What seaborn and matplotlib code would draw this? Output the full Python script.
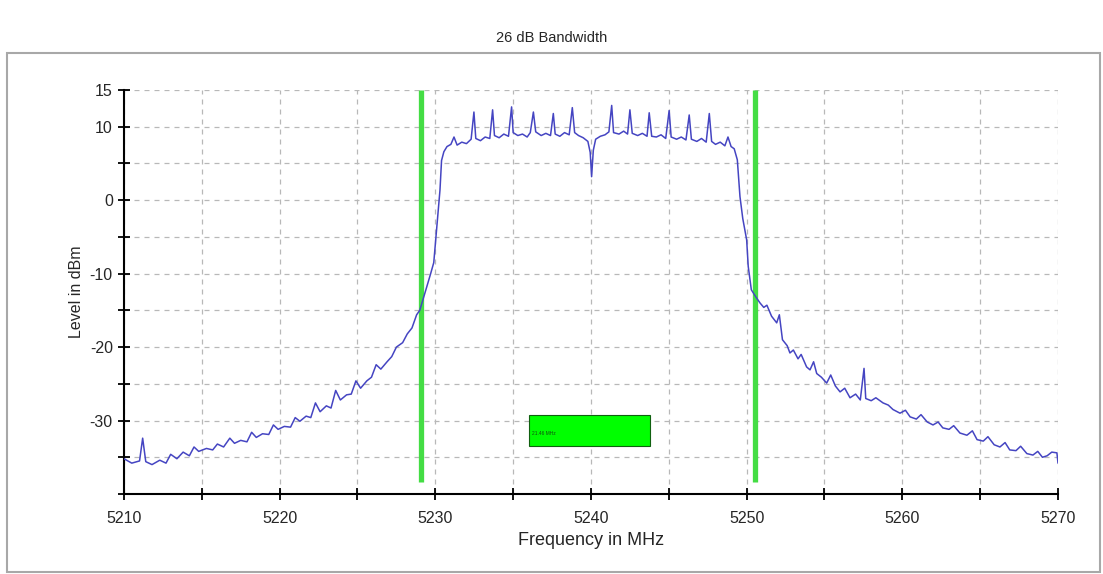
import numpy as np
import pandas as pd
import seaborn as sns
from matplotlib import pyplot as plt
from matplotlib.patches import Rectangle
from matplotlib.ticker import MultipleLocator

# spectrum trace (MHz, dBm)
freq = [
    5210.0, 5210.5, 5211.0, 5211.2, 5211.4, 5211.8, 5212.3, 5212.7, 5213.0, 5213.4,
    5213.8, 5214.2, 5214.5, 5214.8, 5215.3, 5215.7, 5216.0, 5216.4, 5216.8, 5217.1,
    5217.5, 5217.9, 5218.2, 5218.5, 5218.9, 5219.3, 5219.6, 5219.9, 5220.3, 5220.7,
    5221.0, 5221.3, 5221.7, 5222.0, 5222.3, 5222.6, 5223.0, 5223.3, 5223.6, 5223.9,
    5224.3, 5224.6, 5224.9, 5225.2, 5225.6, 5225.9, 5226.2, 5226.5, 5226.9, 5227.2,
    5227.5, 5227.9, 5228.2, 5228.5, 5228.8, 5229.0, 5229.2, 5229.45, 5229.7, 5229.9,
    5230.1, 5230.3, 5230.4, 5230.55, 5230.75,
    5231.0, 5231.2, 5231.4, 5231.7, 5232.0, 5232.3, 5232.48, 5232.6, 5232.9, 5233.2,
    5233.5, 5233.68, 5233.8, 5234.1, 5234.4, 5234.7, 5234.9, 5235.0, 5235.3, 5235.6,
    5235.9, 5236.1, 5236.3, 5236.45, 5236.8, 5237.1, 5237.4, 5237.58, 5237.7, 5238.0,
    5238.3, 5238.6, 5238.8, 5238.95, 5239.2, 5239.5, 5239.8, 5239.95, 5240.04, 5240.15,
    5240.3, 5240.6, 5240.9, 5241.15, 5241.33, 5241.45, 5241.8, 5242.1, 5242.35, 5242.5,
    5242.65, 5243.0, 5243.3, 5243.6, 5243.74, 5243.9, 5244.2, 5244.5, 5244.8, 5245.02,
    5245.15, 5245.5, 5245.8, 5246.1, 5246.31, 5246.45, 5246.8, 5247.1, 5247.4, 5247.6,
    5247.75, 5248.0, 5248.3, 5248.6, 5248.8, 5249.0, 5249.2, 5249.4, 5249.57, 5249.75,
    5250.0, 5250.1, 5250.3, 5250.6, 5250.86, 5251.1, 5251.3, 5251.6, 5251.93, 5252.1,
    5252.3, 5252.6, 5252.78, 5253.0, 5253.3, 5253.5, 5253.85, 5254.07, 5254.3, 5254.5,
    5254.8, 5255.14, 5255.4, 5255.7, 5256.0, 5256.3, 5256.64, 5257.0, 5257.3, 5257.54,
    5257.65, 5258.0, 5258.3, 5258.76, 5259.1, 5259.4, 5259.85, 5260.2, 5260.5, 5260.9,
    5261.2, 5261.6, 5261.97, 5262.3, 5262.6, 5263.0, 5263.3, 5263.7, 5264.15, 5264.5,
    5264.8, 5265.2, 5265.5, 5265.9, 5266.27, 5266.6, 5266.9, 5267.3, 5267.6, 5268.0,
    5268.39, 5268.7, 5269.0, 5269.3, 5269.6, 5269.93, 5270.0,
]
level = [
    -35.2, -35.8, -35.5, -32.4, -35.6, -36.0, -35.4, -35.8, -34.6, -35.2,
    -34.3, -34.8, -33.6, -34.2, -33.8, -34.0, -33.2, -33.6, -32.4, -33.1,
    -32.7, -32.9, -31.6, -32.3, -31.8, -31.9, -30.6, -31.2, -30.8, -30.9,
    -29.6, -30.1, -29.4, -29.6, -27.6, -28.8, -28.0, -28.3, -25.9, -27.2,
    -26.5, -26.4, -24.6, -25.6, -24.6, -24.1, -22.4, -23.0, -22.0, -21.3,
    -20.0, -19.4, -18.2, -17.4, -15.6, -15.0, -13.6, -11.8, -10.0, -8.5,
    -3.6, 1.4, 5.4, 6.6, 7.3,
    7.6, 8.6, 7.5, 7.9, 7.7, 8.3, 12.0, 8.4, 8.1, 8.6,
    8.4, 12.3, 8.8, 8.5, 9.0, 8.7, 12.7, 9.2, 8.8, 9.0,
    8.6, 9.2, 12.0, 9.3, 8.8, 9.1, 8.8, 11.8, 9.0, 8.7,
    9.2, 8.9, 12.6, 9.2, 8.8, 8.5, 8.0, 6.5, 3.2, 6.8,
    8.3, 8.7, 8.9, 9.3, 12.9, 9.2, 9.0, 9.4, 9.0, 12.3,
    9.1, 8.8, 9.1, 8.7, 11.9, 8.7, 8.6, 8.9, 8.4, 12.2,
    8.6, 8.3, 8.6, 8.2, 11.6, 8.3, 8.0, 8.4, 7.9, 11.8,
    8.0, 7.6, 7.9, 7.4, 8.6, 7.3, 7.0, 5.5, 0.5, -2.5,
    -5.4, -9.0, -12.2, -13.2, -14.0, -14.6, -14.3, -15.8, -16.7, -15.6,
    -19.0, -19.8, -20.8, -20.4, -21.6, -21.0, -22.7, -23.1, -22.0, -23.6,
    -24.1, -24.9, -23.8, -25.3, -26.1, -25.6, -26.9, -26.4, -27.2, -22.9,
    -27.0, -27.3, -26.9, -27.6, -27.9, -28.5, -29.0, -28.6, -29.5, -29.8,
    -29.2, -30.2, -30.6, -30.2, -31.0, -31.2, -30.7, -31.7, -32.0, -31.4,
    -32.6, -32.8, -32.2, -33.3, -33.6, -33.0, -34.0, -34.1, -33.5, -34.5,
    -34.7, -34.2, -35.0, -34.8, -34.3, -34.4, -35.8,
]

# 26 dB bandwidth markers
marker_freqs = [5229.07, 5250.53]
bw_label = '21.46 MHz'

df = pd.DataFrame({'freq': freq, 'level': level})

sns.set_style('white')
plt.rcParams['font.family'] = ['Liberation Sans', 'DejaVu Sans']
plt.rcParams['axes.unicode_minus'] = False

fig = plt.figure(figsize=(11.03, 5.74), dpi=100)
ax = fig.add_axes([0.1124, 0.1394, 0.8468, 0.7038])

# outer frame
fig.patches.append(Rectangle((0.006, 0.003), 0.991, 0.905, transform=fig.transFigure,
                             fill=False, edgecolor='#a8a8a8', lw=1.5))
fig.text(0.5, 0.934, '26 dB Bandwidth', ha='center', va='center', fontsize=10.5)

for f in marker_freqs:
    ax.plot([f, f], [15, -38.4], color='#44dd44', lw=3.8, zorder=2, solid_capstyle='butt')

sns.lineplot(data=df, x='freq', y='level', color='#4545c2', lw=1.1,
             estimator=None, sort=False, ax=ax, zorder=3)

# bandwidth readout box
ax.add_patch(Rectangle((5236.0, -33.5), 7.8, 4.3, facecolor='#00ff00',
                       edgecolor='#106010', lw=0.8, zorder=4))
ax.text(5236.2, -31.8, bw_label, fontsize=3.5, color='#105010', va='center', zorder=5)

ax.set_xlim(5210, 5270)
ax.set_ylim(-40, 15)
ax.set_xticks(np.arange(5210, 5271, 10))
ax.xaxis.set_minor_locator(MultipleLocator(5))
ax.set_yticks([15, 10, 0, -10, -20, -30])
ax.yaxis.set_minor_locator(MultipleLocator(5))
ax.tick_params(which='both', direction='inout', length=9, width=1.3, color='black',
               bottom=True, left=True, labelsize=11.5)
ax.tick_params(axis='x', pad=8)

ax.grid(True, which='both', color='#b8b8b8', linestyle=(0, (4, 4)), lw=0.9)
ax.set_axisbelow(True)
for side in ['top', 'right']:
    ax.spines[side].set_visible(False)
for side in ['left', 'bottom']:
    ax.spines[side].set_color('black')
    ax.spines[side].set_linewidth(1.5)

ax.set_xlabel('Frequency in MHz', fontsize=13, labelpad=4)
ax.set_ylabel('Level in dBm', fontsize=11.5, labelpad=4)

fig.savefig('out.png', dpi=100)
